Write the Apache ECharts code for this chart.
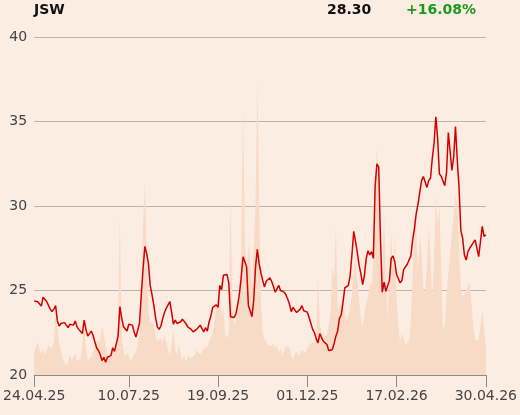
<!DOCTYPE html>
<html>
<head>
<meta charset="utf-8">
<script src="https://cdn.jsdelivr.net/npm/echarts@6/dist/echarts.min.js"></script>
<style>
html,body{margin:0;padding:0;background:#fcede2;}
#chart{width:520px;height:415px;}
</style>
</head>
<body>
<div id="chart"></div>
<script>
// Trading calendar (Warsaw exchange), first and last session
const startDate = '2025-04-24';
const endDate = '2026-04-30';
const holidays = ['2025-05-01','2025-06-19','2025-08-15','2025-11-11','2025-12-24','2025-12-25','2025-12-26','2025-12-31','2026-01-01','2026-01-06','2026-04-03','2026-04-06'];
const tickLabels = ['24.04.25','10.07.25','19.09.25','01.12.25','17.02.26','30.04.26'];
const yTicks = [20, 25, 30, 35, 40];

// Close price
const price = [
24.38,24.34,24.34,24.3,24.08,24.6,24.68,24.35,24.45,23.9,
23.75,23.9,24.1,23.2,22.9,23.05,23.1,23.1,22.95,22.8,
23.0,23.05,22.95,23.2,22.85,22.7,22.65,22.45,23.25,22.7,
22.3,22.35,22.6,22.35,21.95,21.6,21.45,21.2,20.85,21.05,
20.75,21.05,21.1,21.15,21.6,21.4,21.4,22.3,24.05,23.4,
22.86,22.8,22.6,23.0,23.0,22.95,22.55,22.25,22.2,23.06,
24.74,26.3,27.6,27.2,26.6,25.3,24.75,24.15,23.4,22.85,
22.7,22.9,23.35,23.7,23.95,24.15,24.35,23.7,23.0,23.25,
23.05,23.0,23.15,23.3,23.2,23.05,22.85,22.8,22.7,22.55,
22.65,22.7,22.75,22.95,22.95,22.55,22.8,22.6,23.15,23.5,
24.0,24.05,24.15,24.0,25.3,25.05,25.9,25.9,25.95,25.45,
23.45,23.5,23.4,23.62,24.15,24.83,25.8,27.0,26.9,26.4,
24.1,23.8,23.45,24.45,26.4,27.43,26.6,26.05,25.6,25.2,
25.55,25.5,25.75,25.55,25.25,24.9,25.0,25.3,25.0,25.0,
24.9,24.75,24.5,24.2,23.75,24.0,23.95,23.7,23.75,23.9,
24.1,23.8,23.8,23.72,23.4,23.35,22.7,22.5,22.15,21.9,
22.45,22.2,22.0,21.98,21.8,21.45,21.4,21.5,21.85,22.3,
22.6,23.35,23.55,24.3,25.15,25.12,25.3,25.9,27.1,28.5,
27.9,27.25,26.5,26.0,25.35,25.9,26.9,27.35,27.1,27.3,
26.9,31.2,32.5,32.3,28.0,24.9,25.5,24.95,24.95,25.6,
26.9,27.05,26.7,25.95,25.85,25.45,25.6,26.25,26.35,26.55,
26.8,27.05,28.0,28.65,29.55,30.1,30.8,31.5,31.75,31.7,
31.1,31.5,31.64,32.8,33.7,35.28,34.0,31.9,31.76,31.7,
31.2,32.0,34.35,34.4,32.1,32.9,34.7,32.7,31.1,28.56,
28.1,27.1,26.8,27.3,27.5,27.67,27.7,28.0,28.0,27.0,
27.9,28.8,28.2,28.3
];

// Turnover (relative units)
const volume = [
23,28,33,26,21,27,20,18,30,28,
26,35,58,48,33,23,18,13,9,13,
20,15,17,22,14,12,17,30,52,26,
15,13,18,16,28,36,32,37,49,50,
30,21,17,25,30,27,30,55,160,40,
25,18,23,24,14,13,20,25,30,45,
80,150,195,115,62,53,51,50,38,34,
34,37,33,40,33,26,19,30,47,25,
21,31,22,15,20,13,19,20,17,16,
20,25,27,20,22,27,27,28,34,36,
42,55,68,86,74,60,68,40,37,42,
180,70,50,55,66,82,130,270,140,105,
132,115,85,85,170,295,180,75,42,36,
33,30,31,29,32,26,30,23,26,20,
25,29,28,27,20,15,21,24,19,22,
25,24,22,27,27,32,33,33,42,100,
50,43,38,40,40,42,60,108,95,150,
68,63,75,70,70,55,53,65,82,105,
120,95,75,57,48,62,72,78,92,88,
112,190,228,185,110,100,160,100,57,110,
142,100,140,75,50,32,42,42,30,28,
35,55,95,160,145,105,140,125,88,80,
110,150,115,78,115,180,150,170,110,45,
50,80,102,100,140,140,180,170,125,90,
77,75,85,85,93,72,48,35,34,35,
35,65,48,30
];

function pad(n){return n<10?'0'+n:''+n;}
function iso(d){return d.getUTCFullYear()+'-'+pad(d.getUTCMonth()+1)+'-'+pad(d.getUTCDate());}
const days = [];
for (let d = new Date(startDate+'T00:00:00Z'); iso(d) <= endDate; d.setUTCDate(d.getUTCDate()+1)) {
  const wd = d.getUTCDay();
  if (wd === 0 || wd === 6) continue;
  if (holidays.indexOf(iso(d)) >= 0) continue;
  days.push(pad(d.getUTCDate())+'.'+pad(d.getUTCMonth()+1)+'.'+String(d.getUTCFullYear()).slice(2));
}

const FONT = 'DejaVu Sans';
const chart = echarts.init(document.getElementById('chart'), null, {renderer:'canvas'});
const showTick = (idx, val) => tickLabels.indexOf(val) >= 0;
chart.setOption({
  backgroundColor: '#fcede2',
  animation: false,
  grid: {left: 34, right: 34, top: 37, bottom: 40},
  graphic: [
    {type:'text', left: 34, top: 3, style:{text:'JSW', font:'bold 14px "DejaVu Sans"', fill:'#111'}},
    {type:'text', left: 327, top: 3, style:{text: price[price.length-1].toFixed(2), font:'bold 14px "DejaVu Sans"', fill:'#111'}},
    {type:'text', left: 406, top: 3, style:{text: '+' + ((price[price.length-1]/price[0]-1)*100).toFixed(2) + '%', font:'bold 14px "DejaVu Sans"', fill:'#1d9a1d'}}
  ],
  xAxis: {
    type: 'category',
    data: days,
    boundaryGap: false,
    axisLine: {show: true, lineStyle: {color: '#8c8a88', width: 1}},
    axisTick: {show: true, interval: showTick, length: 12, lineStyle: {color: '#8c8a88'}},
    axisLabel: {interval: showTick, color: '#444', fontFamily: FONT, fontSize: 14, margin: 14, showMinLabel: true, showMaxLabel: true},
    splitLine: {show: false}
  },
  yAxis: [
    {
      type: 'value', min: yTicks[0], max: yTicks[yTicks.length-1], interval: 5,
      axisLine: {show: false}, axisTick: {show: false},
      axisLabel: {color: '#444', fontFamily: FONT, fontSize: 14, margin: 7},
      splitLine: {lineStyle: {color: '#b9b4b0', width: 1}}
    },
    {
      type: 'value', min: 0, max: 338, show: false,
      splitLine: {show: false}
    }
  ],
  series: [
    {
      type: 'line', yAxisIndex: 1, data: volume, symbol: 'none',
      lineStyle: {width: 0}, areaStyle: {color: '#f8dbc6', opacity: 1}, z: 1
    },
    {
      type: 'line', yAxisIndex: 0, data: price, symbol: 'none',
      lineStyle: {color: '#d30000', width: 1.5}, z: 3
    }
  ]
});
</script>
</body>
</html>
